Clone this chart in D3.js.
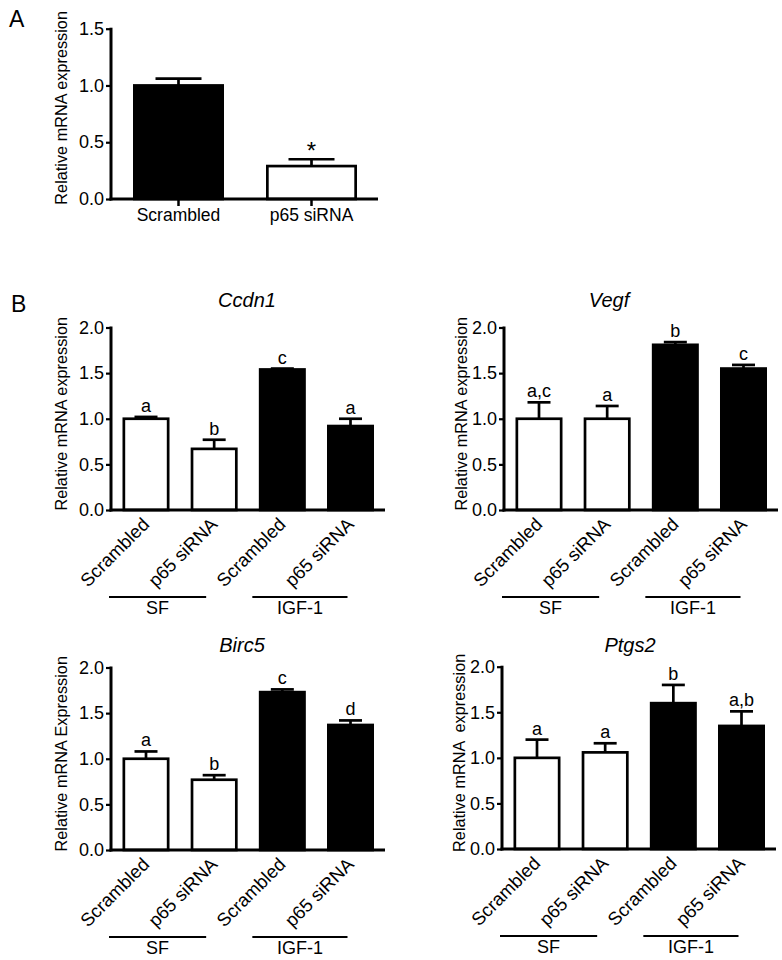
<!DOCTYPE html>
<html>
<head>
<meta charset="utf-8">
<script src="https://cdn.jsdelivr.net/npm/d3@7"></script>
<style>
  html, body { margin: 0; padding: 0; background: #fff; }
  svg text { font-family: "Liberation Sans", Arial, sans-serif; fill: #000; }
</style>
</head>
<body>
<svg id="chart" width="782" height="960"></svg>
<script>
// ---------- DATA ----------
const panelACategories = ["Scrambled", "p65 siRNA"];
const panelAValues = [1.00, 0.29];
const panelAErrors = [0.06, 0.06];
const panelAMarks = ["", "*"];
const panelATicks = [0.0, 0.5, 1.0, 1.5];

const conditionLabels = ["Scrambled", "p65 siRNA", "Scrambled", "p65 siRNA"];
const groupLabels = ["SF", "IGF-1"];
const panelBTicks = [0.0, 0.5, 1.0, 1.5, 2.0];

const geneTitles = ["Ccdn1", "Vegf", "Birc5", "Ptgs2"];
const yAxisTitles = ["Relative mRNA expression", "Relative mRNA expression",
                     "Relative mRNA Expression", "Relative mRNA  expression"];

const ccdn1Values = [1.00, 0.67, 1.54, 0.92];
const ccdn1Errors = [0.02, 0.10, 0.01, 0.08];
const ccdn1Letters = ["a", "b", "c", "a"];

const vegfValues = [1.00, 1.00, 1.81, 1.55];
const vegfErrors = [0.18, 0.14, 0.03, 0.04];
const vegfLetters = ["a,c", "a", "b", "c"];

const birc5Values = [1.00, 0.77, 1.73, 1.37];
const birc5Errors = [0.08, 0.05, 0.03, 0.05];
const birc5Letters = ["a", "b", "c", "d"];

const ptgs2Values = [1.00, 1.06, 1.60, 1.35];
const ptgs2Errors = [0.20, 0.10, 0.20, 0.16];
const ptgs2Letters = ["a", "a", "b", "a,b"];

const barFills = ["#fff", "#fff", "#000", "#000"];
const panelAFills = ["#000", "#fff"];

// ---------- LAYOUT ----------
const svg = d3.select("#chart");
const AXW = 3, BARW = 2.7;

svg.append("text").attr("x", 9).attr("y", 27).attr("font-size", 23).text("A");
svg.append("text").attr("x", 11).attr("y", 312).attr("font-size", 23).text("B");

function drawYAxis(g, y, ticks, x0) {
  const ax = d3.axisLeft(y).tickValues(ticks).tickFormat(d3.format(".1f"))
    .tickSize(5).tickPadding(2);
  const a = g.append("g").attr("transform", `translate(${x0},0)`).call(ax);
  a.select(".domain").remove();
  a.selectAll(".tick line").attr("stroke", "#000").attr("stroke-width", 2.2);
  a.selectAll(".tick text").attr("font-size", 18)
    .attr("font-family", "Liberation Sans, Arial, sans-serif").attr("fill", "#000");
  g.append("line").attr("x1", x0).attr("x2", x0)
    .attr("y1", y(ticks[ticks.length - 1]) - 1).attr("y2", y(0) + AXW / 2)
    .attr("stroke", "#000").attr("stroke-width", AXW);
}

function drawBars(g, x, y, values, errors, fills, bw, capW, marks, markOffset, markSize) {
  const idx = values.map((d, i) => i);
  g.selectAll("rect.bar").data(idx).enter().append("rect")
    .attr("x", i => x(i) - bw / 2 + BARW / 2)
    .attr("width", bw - BARW)
    .attr("y", i => y(values[i]))
    .attr("height", i => y(0) - y(values[i]))
    .attr("fill", i => fills[i]).attr("stroke", "#000").attr("stroke-width", BARW);
  g.selectAll("line.err").data(idx).enter().append("line")
    .attr("x1", i => x(i)).attr("x2", i => x(i))
    .attr("y1", i => y(values[i])).attr("y2", i => y(values[i] + errors[i]))
    .attr("stroke", "#000").attr("stroke-width", BARW);
  g.selectAll("line.cap").data(idx).enter().append("line")
    .attr("x1", i => x(i) - capW / 2).attr("x2", i => x(i) + capW / 2)
    .attr("y1", i => y(values[i] + errors[i])).attr("y2", i => y(values[i] + errors[i]))
    .attr("stroke", "#000").attr("stroke-width", BARW);
  g.selectAll("text.mark").data(idx).enter().append("text")
    .attr("x", i => x(i)).attr("y", i => y(values[i] + errors[i]) - markOffset)
    .attr("text-anchor", "middle").attr("font-size", markSize)
    .text(i => marks[i]);
}

// ---------- PANEL A ----------
(function () {
  const x0 = 111, yZero = 199, yTop = 28.7, axisLen = 267;
  const g = svg.append("g");
  const y = d3.scaleLinear().domain([0, 1.5]).range([yZero, yTop]);
  const x = d3.scalePoint().domain(d3.range(panelACategories.length)).range([x0 + 67.5, x0 + 200.5]);
  drawYAxis(g, y, panelATicks, x0);
  drawBars(g, x, y, panelAValues, panelAErrors, panelAFills, 91, 46, panelAMarks, 0, 24);
  g.selectAll("text.mark").attr("dy", "0.55em").attr("y", function (i) { return y(panelAValues[i] + panelAErrors[i]) - 16; });
  g.append("line").attr("x1", x0 - AXW / 2).attr("x2", x0 + axisLen)
    .attr("y1", yZero).attr("y2", yZero).attr("stroke", "#000").attr("stroke-width", AXW);
  panelACategories.forEach((c, i) => {
    g.append("line").attr("x1", x(i)).attr("x2", x(i)).attr("y1", yZero).attr("y2", yZero + 7)
      .attr("stroke", "#000").attr("stroke-width", 2.5);
    g.append("text").attr("x", x(i)).attr("y", 221).attr("text-anchor", "middle")
      .attr("font-size", 17.5).text(c);
  });
  g.append("text").attr("transform", `translate(67,${(yZero + yTop) / 2 - 6}) rotate(-90)`)
    .attr("text-anchor", "middle").attr("font-size", 16.3).text("Relative mRNA expression");
})();

// ---------- PANEL B ----------
const panels = [
  { values: ccdn1Values, errors: ccdn1Errors, letters: ccdn1Letters, x0: 111, yZero: 510, yTop: 327.5, titleX: 247, titleY: 307, labelX: 67 },
  { values: vegfValues, errors: vegfErrors, letters: vegfLetters, x0: 504, yZero: 510, yTop: 327.5, titleX: 609, titleY: 307, labelX: 467 },
  { values: birc5Values, errors: birc5Errors, letters: birc5Letters, x0: 111, yZero: 850, yTop: 667.5, titleX: 242, titleY: 652, labelX: 67 },
  { values: ptgs2Values, errors: ptgs2Errors, letters: ptgs2Letters, x0: 502, yZero: 849, yTop: 666.7, titleX: 630, titleY: 652, labelX: 465 }
];

panels.forEach((p, k) => {
  const g = svg.append("g");
  const y = d3.scaleLinear().domain([0, 2.0]).range([p.yZero, p.yTop]);
  const x = d3.scalePoint().domain(d3.range(conditionLabels.length)).range([p.x0 + 35, p.x0 + 239.5]);
  drawYAxis(g, y, panelBTicks, p.x0);
  drawBars(g, x, y, p.values, p.errors, barFills, 47, 23, p.letters, 5, 18);
  g.append("line").attr("x1", p.x0 - AXW / 2).attr("x2", p.x0 + 274)
    .attr("y1", p.yZero).attr("y2", p.yZero).attr("stroke", "#000").attr("stroke-width", AXW);
  conditionLabels.forEach((c, i) => {
    g.append("text")
      .attr("transform", `translate(${x(i) - 5},${p.yZero + 6}) rotate(-45)`)
      .attr("text-anchor", "end").attr("dy", "0.72em").attr("font-size", 18.5).text(c);
  });
  const groupSpans = [[x(0) - 37, x(1) - 8], [x(2) - 30, x(3) - 3]];
  groupLabels.forEach((gl, j) => {
    const [a, b] = groupSpans[j];
    g.append("line").attr("x1", a).attr("x2", b)
      .attr("y1", p.yZero + 87).attr("y2", p.yZero + 87)
      .attr("stroke", "#000").attr("stroke-width", 2);
    g.append("text").attr("x", (a + b) / 2).attr("y", p.yZero + 104)
      .attr("text-anchor", "middle").attr("font-size", 18).text(gl);
  });
  g.append("text").attr("x", p.titleX).attr("y", p.titleY).attr("text-anchor", "middle")
    .attr("font-size", 20).attr("font-style", "italic").text(geneTitles[k]);
  g.append("text").attr("transform", `translate(${p.labelX},${(p.yZero + p.yTop) / 2 - 5}) rotate(-90)`)
    .attr("text-anchor", "middle").attr("font-size", 16.3)
    .attr("xml:space", "preserve").style("white-space", "pre").text(yAxisTitles[k]);
});
</script>
</body>
</html>
